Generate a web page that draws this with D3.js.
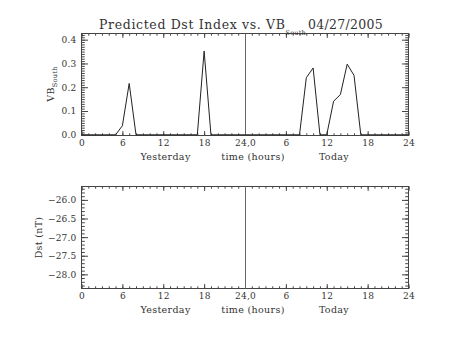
<!DOCTYPE html>
<html>
<head>
<meta charset="utf-8">
<script src="https://cdn.jsdelivr.net/npm/d3@7"></script>
<style>
  html, body { margin: 0; padding: 0; background: #fff; }
</style>
</head>
<body>
<svg id="chart" width="453" height="340" font-family="DejaVu Serif"></svg>
<script>
// Hours since start of yesterday (0..48) and southward VB values
const hours = [0,1,2,3,4,5,6,7,8,9,10,11,12,13,14,15,16,17,18,19,20,21,22,23,
               24,25,26,27,28,29,30,31,32,33,34,35,36,37,38,39,40,41,42,43,44,45,46,47,48];
const vbSouth = [0,0,0,0,0,0,0.038,0.216,0,0,0,0,0,0,0,0,0,0,0.352,0,0,0,0,0,
                 0,0,0,0,0,0,0,0,0,0.240,0.281,0,0,0.141,0.169,0.297,0.250,0,0,0,0,0,0,0,0];

// Axis ticks
const xTickHours = [0, 6, 12, 18, 24, 30, 36, 42, 48];
const xTickLabels = ["0", "6", "12", "18", "24,0", "6", "12", "18", "24"];
const vbTicks = [0, 0.1, 0.2, 0.3, 0.4];
const vbTickLabels = ["0.0", "0.1", "0.2", "0.3", "0.4"];
const dstTicks = [-26.0, -26.5, -27.0, -27.5, -28.0];
const dstTickLabels = ["\u221226.0", "\u221226.5", "\u221227.0", "\u221227.5", "\u221228.0"];

const FONT = "DejaVu Serif";
const INK = "#333";
const svg = d3.select("#chart");

const x = d3.scaleLinear().domain([0, 48]).range([81.5, 408.5]);
const yTop = d3.scaleLinear().domain([-0.003, 0.426]).range([135.5, 33.5]);
const yBot = d3.scaleLinear().domain([-28.38, -25.64]).range([288.5, 186.5]);

const minorHours = d3.range(0, 49, 1);
const vbMinor = d3.range(0, 43).map(i => i / 100);
const dstMinor = d3.range(-283, -256).map(i => i / 10);

function label(sel, size, spacing) {
  return sel.attr("font-family", FONT).attr("font-size", size).attr("fill", INK)
    .attr("letter-spacing", spacing || 0);
}

function panel(y, ticks, tickLabels, minor) {
  const [y0, y1] = y.range();
  const g = svg.append("g");
  const xLen = 2.2, yLen = 6.5;

  const strip = sel => {
    sel.attr("font-family", null).attr("font-size", null);
    sel.select(".domain").remove();
    sel.selectAll("line").attr("stroke", "#444");
  };

  // bottom axis with labels
  g.append("g").attr("transform", `translate(0,${y0})`)
    .call(d3.axisBottom(x).tickValues(xTickHours).tickSize(-xLen * 2).tickPadding(4)
      .tickFormat((d, i) => xTickLabels[i]))
    .call(strip)
    .call(s => label(s.selectAll("text"), 9, 0.2).attr("dy", "0.71em"));
  g.append("g").attr("transform", `translate(0,${y0})`)
    .call(d3.axisBottom(x).tickValues(minorHours).tickSize(-xLen).tickFormat(""))
    .call(strip);
  // top axis ticks
  g.append("g").attr("transform", `translate(0,${y1})`)
    .call(d3.axisTop(x).tickValues(xTickHours).tickSize(-xLen * 2).tickFormat(""))
    .call(strip);
  g.append("g").attr("transform", `translate(0,${y1})`)
    .call(d3.axisTop(x).tickValues(minorHours).tickSize(-xLen).tickFormat(""))
    .call(strip);
  // left axis with labels
  g.append("g").attr("transform", `translate(${x.range()[0]},0)`)
    .call(d3.axisLeft(y).tickValues(ticks).tickSize(-yLen).tickPadding(5)
      .tickFormat((d, i) => tickLabels[i]))
    .call(strip)
    .call(s => label(s.selectAll("text"), 9, 0.2));
  g.append("g").attr("transform", `translate(${x.range()[0]},0)`)
    .call(d3.axisLeft(y).tickValues(minor).tickSize(-yLen / 2).tickFormat(""))
    .call(strip);
  // right axis ticks
  g.append("g").attr("transform", `translate(${x.range()[1]},0)`)
    .call(d3.axisRight(y).tickValues(ticks).tickSize(-yLen).tickFormat(""))
    .call(strip);
  g.append("g").attr("transform", `translate(${x.range()[1]},0)`)
    .call(d3.axisRight(y).tickValues(minor).tickSize(-yLen / 2).tickFormat(""))
    .call(strip);

  // frame
  g.append("rect")
    .attr("x", x.range()[0]).attr("y", y1)
    .attr("width", x.range()[1] - x.range()[0]).attr("height", y0 - y1)
    .attr("fill", "none").attr("stroke", "#444").attr("stroke-width", 1);

  // day boundary
  g.append("line")
    .attr("x1", Math.round(x(24)) + 0.5).attr("x2", Math.round(x(24)) + 0.5)
    .attr("y1", y1).attr("y2", y0)
    .attr("stroke", "#666").attr("stroke-width", 1);

  // axis captions
  const capY = y0 + 24.5;
  label(g.append("text"), 9.5, 0.35).attr("x", 165.5).attr("y", capY).attr("text-anchor", "middle").text("Yesterday");
  label(g.append("text"), 9.5, 0.35).attr("x", 253).attr("y", capY).attr("text-anchor", "middle").text("time (hours)");
  label(g.append("text"), 9.5, 0.35).attr("x", 334).attr("y", capY).attr("text-anchor", "middle").text("Today");
  return g;
}

const gTop = panel(yTop, vbTicks, vbTickLabels, vbMinor);
const gBot = panel(yBot, dstTicks, dstTickLabels, dstMinor);

// VB south trace
const line = d3.line().x(d => x(d[0])).y(d => yTop(d[1]));
gTop.append("path")
  .datum(hours.map((h, i) => [h, vbSouth[i]]))
  .attr("d", line)
  .attr("fill", "none").attr("stroke", "#222").attr("stroke-width", 1);

// title with subscript
const title = label(svg.append("text"), 12.5, 0.65).attr("x", 99).attr("y", 29.3);
title.append("tspan").text("Predicted Dst Index vs. VB");
title.append("tspan").attr("dy", 5.5).attr("font-size", 6.5).attr("letter-spacing", 0.2).text("South");
title.append("tspan").attr("x", 308).attr("dy", -5.5).attr("letter-spacing", 0.3).text("04/27/2005");

// y-axis titles
const yt = label(svg.append("text"), 9.5, 0.3)
  .attr("transform", "translate(53.5,84) rotate(-90)")
  .attr("text-anchor", "middle");
yt.append("tspan").text("VB");
yt.append("tspan").attr("font-size", 6.5).attr("dy", 3.5).text("South");

label(svg.append("text"), 9.5, 0.3)
  .attr("transform", "translate(42,237.5) rotate(-90)")
  .attr("text-anchor", "middle").text("Dst (nT)");
</script>
</body>
</html>
